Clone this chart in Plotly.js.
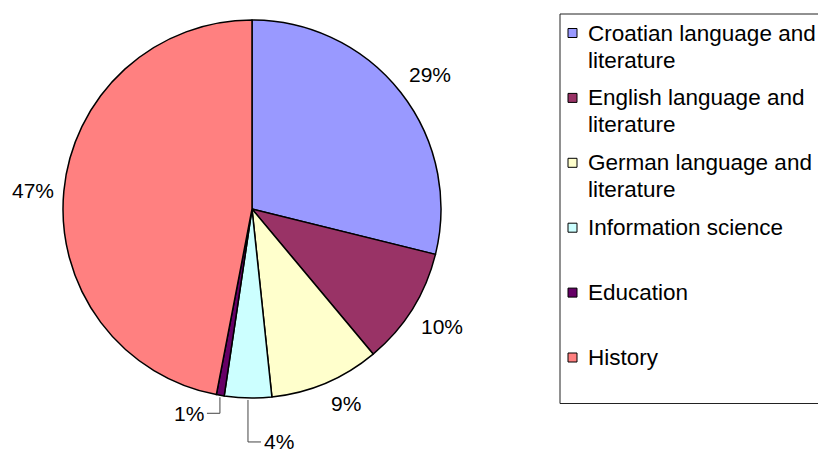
<!DOCTYPE html>
<html>
<head>
<meta charset="utf-8">
<script src="https://cdn.plot.ly/plotly-3.0.1.min.js"></script>
<style>
  html, body { margin: 0; padding: 0; background: #fff; }
  #chart { width: 818px; height: 457px; }
</style>
</head>
<body>
<div id="chart"></div>
<script>
// ---- data ----
const categories = [
  'Croatian language and literature',
  'English language and literature',
  'German language and literature',
  'Information science',
  'Education',
  'History'
];
const values = [43, 15, 14, 6, 1, 70];
const colors = ['#9999FF', '#993366', '#FFFFCC', '#CCFFFF', '#660066', '#FF8080'];
const legendLines = [
  ['Croatian language and', 'literature'],
  ['English language and', 'literature'],
  ['German language and', 'literature'],
  ['Information science'],
  ['Education'],
  ['History']
];

// ---- layout config (pixels) ----
const W = 818, H = 457;
const cx = 252, cy = 209, R = 189;
const leaderDrop = [0, 0, 0, 42, 16, 0];   // vertical leader length below slice edge
const leaderSide = [0, 0, 0, 1, -1, 0];    // horizontal direction of leader elbow
const FONT = 'Liberation Sans, Arial, sans-serif';

const px = x => x / W;
const py = y => 1 - y / H;

const total = values.reduce((a, b) => a + b, 0);
const annotations = [];
const shapes = [];

let cum = 0;
values.forEach((v, i) => {
  const mid = (cum + v / 2) / total;
  cum += v;
  const th = mid * 2 * Math.PI;
  const s = Math.sin(th), c = Math.cos(th);
  const txt = Math.round(v / total * 100) + '%';
  if (leaderDrop[i] > 0) {
    const x0 = cx + (R + 2) * s, y0 = cy - (R + 2) * c;
    const y1 = y0 + leaderDrop[i];
    const x2 = x0 + leaderSide[i] * 13;
    shapes.push({
      type: 'path', xref: 'paper', yref: 'paper',
      path: `M ${px(x0)} ${py(y0)} L ${px(x0)} ${py(y1)} L ${px(x2)} ${py(y1)}`,
      line: { color: '#444', width: 1 }
    });
    annotations.push({
      xref: 'paper', yref: 'paper', x: px(x2 + leaderSide[i] * 1), y: py(y1),
      text: txt, showarrow: false,
      xanchor: leaderSide[i] > 0 ? 'left' : 'right', yanchor: 'middle',
      font: { family: FONT, size: 21, color: '#000' }
    });
  } else {
    const rr = R + 8;
    annotations.push({
      xref: 'paper', yref: 'paper', x: px(cx + rr * s), y: py(cy - rr * c),
      text: txt, showarrow: false,
      xanchor: s > 0.3 ? 'left' : (s < -0.3 ? 'right' : 'center'),
      yanchor: c > 0.3 ? 'bottom' : (c < -0.3 ? 'top' : 'middle'),
      font: { family: FONT, size: 21, color: '#000' }
    });
  }
});

// ---- legend (drawn from categories/colors) ----
shapes.push({
  type: 'rect', xref: 'paper', yref: 'paper',
  x0: px(560), x1: px(830), y0: py(14), y1: py(403.5),
  line: { color: '#222', width: 1 }, fillcolor: 'rgba(0,0,0,0)'
});
const legTop = 33, legStep = 64.9, lineStep = 27;
legendLines.forEach((lines, i) => {
  const yc = legTop + i * legStep;
  shapes.push({
    type: 'rect', xref: 'paper', yref: 'paper',
    x0: px(568), x1: px(577), y0: py(yc - 4.5), y1: py(yc + 4.5),
    line: { color: '#000', width: 1 }, fillcolor: colors[i]
  });
  lines.forEach((ln, j) => {
    annotations.push({
      xref: 'paper', yref: 'paper', x: px(586), y: py(yc + j * lineStep),
      text: ln, showarrow: false, xanchor: 'left', yanchor: 'middle',
      font: { family: FONT, size: 22.5, color: '#000' }
    });
  });
});

const trace = {
  type: 'pie',
  labels: categories,
  values: values,
  sort: false,
  direction: 'clockwise',
  rotation: 0,
  textinfo: 'none',
  hoverinfo: 'label+percent',
  showlegend: false,
  marker: { colors: colors, line: { color: '#000', width: 1.5 } },
  domain: { x: [px(cx - R), px(cx + R)], y: [py(cy + R), py(cy - R)] }
};

Plotly.newPlot('chart', [trace], {
  width: W, height: H,
  margin: { l: 0, r: 0, t: 0, b: 0 },
  paper_bgcolor: '#fff',
  showlegend: false,
  font: { family: FONT },
  shapes: shapes,
  annotations: annotations
}, { displayModeBar: false, staticPlot: true });
</script>
</body>
</html>
